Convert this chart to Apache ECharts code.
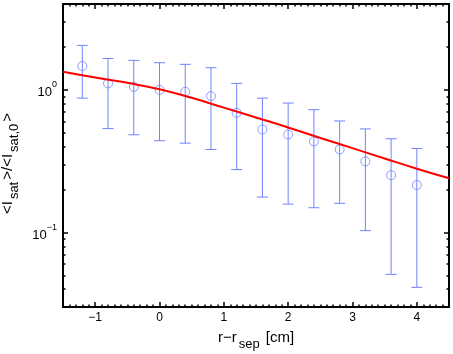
<!DOCTYPE html>
<html>
<head>
<meta charset="utf-8">
<script src="https://cdn.jsdelivr.net/npm/echarts@6/dist/echarts.min.js"></script>
<style>
html,body{margin:0;padding:0;background:#fff;}
#main{width:453px;height:354px;}
</style>
</head>
<body>
<div id="main"></div>
<script>
// measured profile, normalised to the value at the separatrix
var posX = [-1.2, -0.8, -0.4, 0, 0.4, 0.8, 1.2, 1.6, 2.0, 2.4, 2.8, 3.2, 3.6, 4.0];
var meanY = [1.47, 1.11, 1.05, 1.0, 0.97, 0.904, 0.69, 0.527, 0.486, 0.435, 0.382, 0.315, 0.252, 0.215];
var upperY = [2.05, 1.66, 1.61, 1.55, 1.51, 1.43, 1.11, 0.875, 0.808, 0.726, 0.605, 0.532, 0.454, 0.388];
var lowerY = [0.875, 0.535, 0.484, 0.44, 0.423, 0.382, 0.276, 0.177, 0.158, 0.149, 0.16, 0.103, 0.0508, 0.0412];
// fitted curve (red)
var fitX = [-1.5, -1, -0.5, 0, 0.5, 1, 1.5, 2, 2.5, 3, 3.5, 4, 4.5];
var fitY = [1.34, 1.22, 1.12, 1.01, 0.88, 0.75, 0.64, 0.545, 0.46, 0.39, 0.33, 0.28, 0.24];
// ticks
var xMajor = [-1, 0, 1, 2, 3, 4];
var yMajor = [0.1, 1];
var yMinor = [0.03, 0.04, 0.05, 0.06, 0.07, 0.08, 0.09, 0.2, 0.3, 0.4, 0.5, 0.6, 0.7, 0.8, 0.9, 2, 3, 4];

var font = 'Liberation Sans';
var blue = '#6f84ff';

var pts = [], bars = [], fit = [];
for (var i = 0; i < posX.length; i++) {
    pts.push([posX[i], meanY[i]]);
    bars.push([posX[i], lowerY[i], upperY[i]]);
}
for (var j = 0; j < fitX.length; j++) {
    fit.push([fitX[j], fitY[j]]);
}

// text with subscripts
var nameRich = {
    n: {fontSize: 15, color: '#000', fontFamily: font, lineHeight: 15, verticalAlign: 'top'},
    sub: {fontSize: 13, color: '#000', fontFamily: font, lineHeight: 21, padding: [0, 2, 0, 2], verticalAlign: 'bottom'}
};

function xAx(pos, major, labels) {
    return {
        type: 'value', position: pos, min: -1.5, max: 4.5,
        interval: major ? undefined : 0.1,
        splitLine: {show: false},
        axisLine: {show: major, onZero: false, lineStyle: {color: '#000', width: 2}},
        axisTick: major ? {inside: true, length: 5, customValues: xMajor, lineStyle: {color: '#000', width: 1.5}}
                        : {inside: true, length: 2.5, lineStyle: {color: '#000', width: 1.5}},
        axisLabel: labels ? {
            customValues: xMajor, margin: 5, color: '#000', fontFamily: font, fontSize: 12,
            formatter: function (v) { return v < 0 ? '\u2212' + Math.abs(v) : '' + v; }
        } : {show: false}
    };
}
function yAx(pos, major, labels) {
    return {
        type: 'log', position: pos, min: 0.03, max: 4,
        splitLine: {show: false},
        axisLine: {show: major, onZero: false, lineStyle: {color: '#000', width: 2}},
        axisTick: major ? {inside: true, length: 5, customValues: yMajor, lineStyle: {color: '#000', width: 1.5}}
                        : {inside: true, length: 2.5, customValues: yMinor, lineStyle: {color: '#000', width: 1.5}},
        axisLabel: labels ? {
            customValues: yMajor, margin: 6, fontFamily: font,
            formatter: function (v) { return '{b|10}{s|' + (v < 0.5 ? '\u22121' : '0') + '}'; },
            rich: {
                b: {fontSize: 13, color: '#000', fontFamily: font, lineHeight: 19, verticalAlign: 'bottom'},
                s: {fontSize: 9, color: '#000', fontFamily: font, lineHeight: 19, verticalAlign: 'top'}
            }
        } : {show: false}
    };
}

var xAxes = [xAx('bottom', true, true), xAx('bottom', false, false), xAx('top', true, false), xAx('top', false, false)];
xAxes[0].name = '{n|r\u2212r}{sub|sep}{n| [cm]}';
xAxes[0].nameLocation = 'middle';
xAxes[0].nameGap = 23;
xAxes[0].nameTextStyle = {rich: nameRich};
var yAxes = [yAx('left', true, true), yAx('left', false, false), yAx('right', true, false), yAx('right', false, false)];
yAxes[0].name = '{n|<I}{sub|sat}{n|>/<I}{sub|sat,0}{n|>}';
yAxes[0].nameLocation = 'middle';
yAxes[0].nameRotate = 90;
yAxes[0].nameGap = 33;
yAxes[0].nameTextStyle = {rich: nameRich, padding: [0, 16, 0, 0]};

var myChart = echarts.init(document.getElementById('main'));
var option = {
    backgroundColor: '#fff',
    animation: false,
    grid: {left: 63, right: 4, top: 4, bottom: 47, outerBoundsMode: 'none', containLabel: false},
    xAxis: xAxes,
    yAxis: yAxes,
    series: [
        {
            // error bars
            type: 'custom',
            xAxisIndex: 0, yAxisIndex: 0,
            data: bars,
            encode: {x: 0, y: [1, 2]},
            z: 2,
            renderItem: function (params, api) {
                var x = api.value(0);
                var lo = api.coord([x, api.value(1)]);
                var hi = api.coord([x, api.value(2)]);
                var w = 5.5;
                var st = {stroke: blue, lineWidth: 1};
                return {
                    type: 'group',
                    children: [
                        {type: 'line', shape: {x1: lo[0], y1: lo[1], x2: hi[0], y2: hi[1]}, style: st},
                        {type: 'line', shape: {x1: lo[0] - w, y1: lo[1], x2: lo[0] + w, y2: lo[1]}, style: st},
                        {type: 'line', shape: {x1: hi[0] - w, y1: hi[1], x2: hi[0] + w, y2: hi[1]}, style: st}
                    ]
                };
            }
        },
        {
            type: 'scatter',
            xAxisIndex: 0, yAxisIndex: 0,
            data: pts,
            symbol: 'circle',
            symbolSize: 9,
            z: 3,
            itemStyle: {color: 'transparent', borderColor: blue, borderWidth: 1}
        },
        {
            type: 'line',
            xAxisIndex: 0, yAxisIndex: 0,
            data: fit,
            smooth: true,
            showSymbol: false,
            z: 4,
            lineStyle: {color: '#ff0000', width: 2}
        }
    ]
};
myChart.setOption(option);
</script>
</body>
</html>
